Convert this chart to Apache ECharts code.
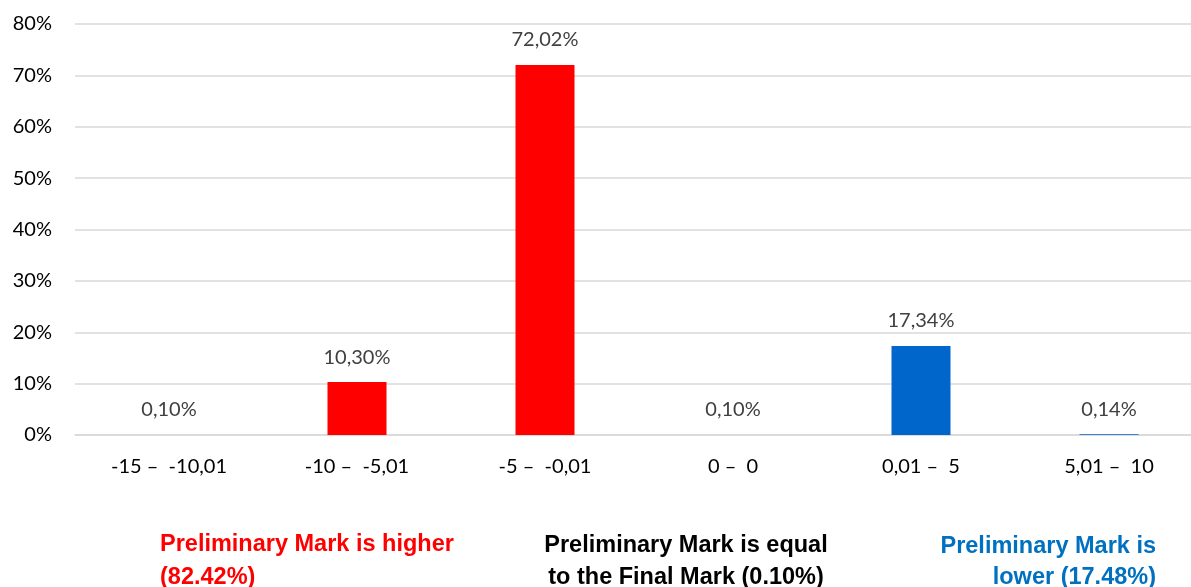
<!DOCTYPE html>
<html>
<head>
<meta charset="utf-8">
<style>html,body{margin:0;padding:0;background:#fff;overflow:hidden}#c{width:1191px;height:587px}</style>
<script src="https://cdn.jsdelivr.net/npm/echarts@6/dist/echarts.min.js"></script>
</head>
<body>
<div id="c"></div>
<script>
const categories = ['-15 \u2013  -10,01', '-10 \u2013  -5,01', '-5 \u2013  -0,01', '0 \u2013  0', '0,01 \u2013  5', '5,01 \u2013  10'];
const values = [0.10, 10.30, 72.02, 0.10, 17.34, 0.14];
const barColors = ['rgba(0,0,0,0)', '#FF0000', '#FF0000', 'rgba(0,0,0,0)', '#0066CC', '#0066CC'];
const yTicks = [0, 10, 20, 30, 40, 50, 60, 70, 80];

const chart = echarts.init(document.getElementById('c'));
const font = 'Lato, "Open Sans", sans-serif';
const boldFont = '"Liberation Sans", Arial, sans-serif';
function txt(x, y, text, fill, align) {
  return {type: 'text', x: x, y: y, silent: true,
    style: {text: text, fill: fill, fontSize: 23.5, fontWeight: 'bold', fontFamily: boldFont,
      align: align, verticalAlign: 'middle', textAlign: align, textVerticalAlign: 'middle'}};
}
chart.setOption({
  animation: false,
  grid: {left: 75, top: 24, width: 1128, bottom: 152, outerBoundsMode: 'none', containLabel: false},
  xAxis: {
    type: 'category',
    data: categories,
    axisLine: {show: true, lineStyle: {color: '#d9d9d9', width: 1.5}},
    axisTick: {show: false},
    axisLabel: {color: '#000', fontSize: 20, fontFamily: font, margin: 22}
  },
  yAxis: {
    type: 'value',
    min: yTicks[0], max: yTicks[yTicks.length - 1], interval: 10,
    axisLine: {show: false}, axisTick: {show: false},
    splitLine: {lineStyle: {color: '#d9d9d9', width: 1.5}},
    axisLabel: {color: '#000', fontSize: 20, fontFamily: font, margin: 23, formatter: v => v + '%'}
  },
  series: [{
    type: 'bar',
    barWidth: 59,
    data: values.map((v, i) => ({value: v, itemStyle: {color: barColors[i]}})),
    label: {
      show: true, position: 'top', distance: 15,
      color: '#404040', fontSize: 20, fontFamily: font,
      formatter: p => p.value.toFixed(2).replace('.', ',') + '%'
    }
  }],
  graphic: [
    txt(160, 545, 'Preliminary Mark is higher', '#FF0000', 'left'),
    txt(160, 578, '(82.42%)', '#FF0000', 'left'),
    txt(686, 546, 'Preliminary Mark is equal', '#000000', 'center'),
    txt(686, 578, 'to the Final Mark (0.10%)', '#000000', 'center'),
    txt(1156, 547, 'Preliminary Mark is', '#0070C0', 'right'),
    txt(1156, 578, 'lower (17.48%)', '#0070C0', 'right')
  ]
});
</script>
</body>
</html>
